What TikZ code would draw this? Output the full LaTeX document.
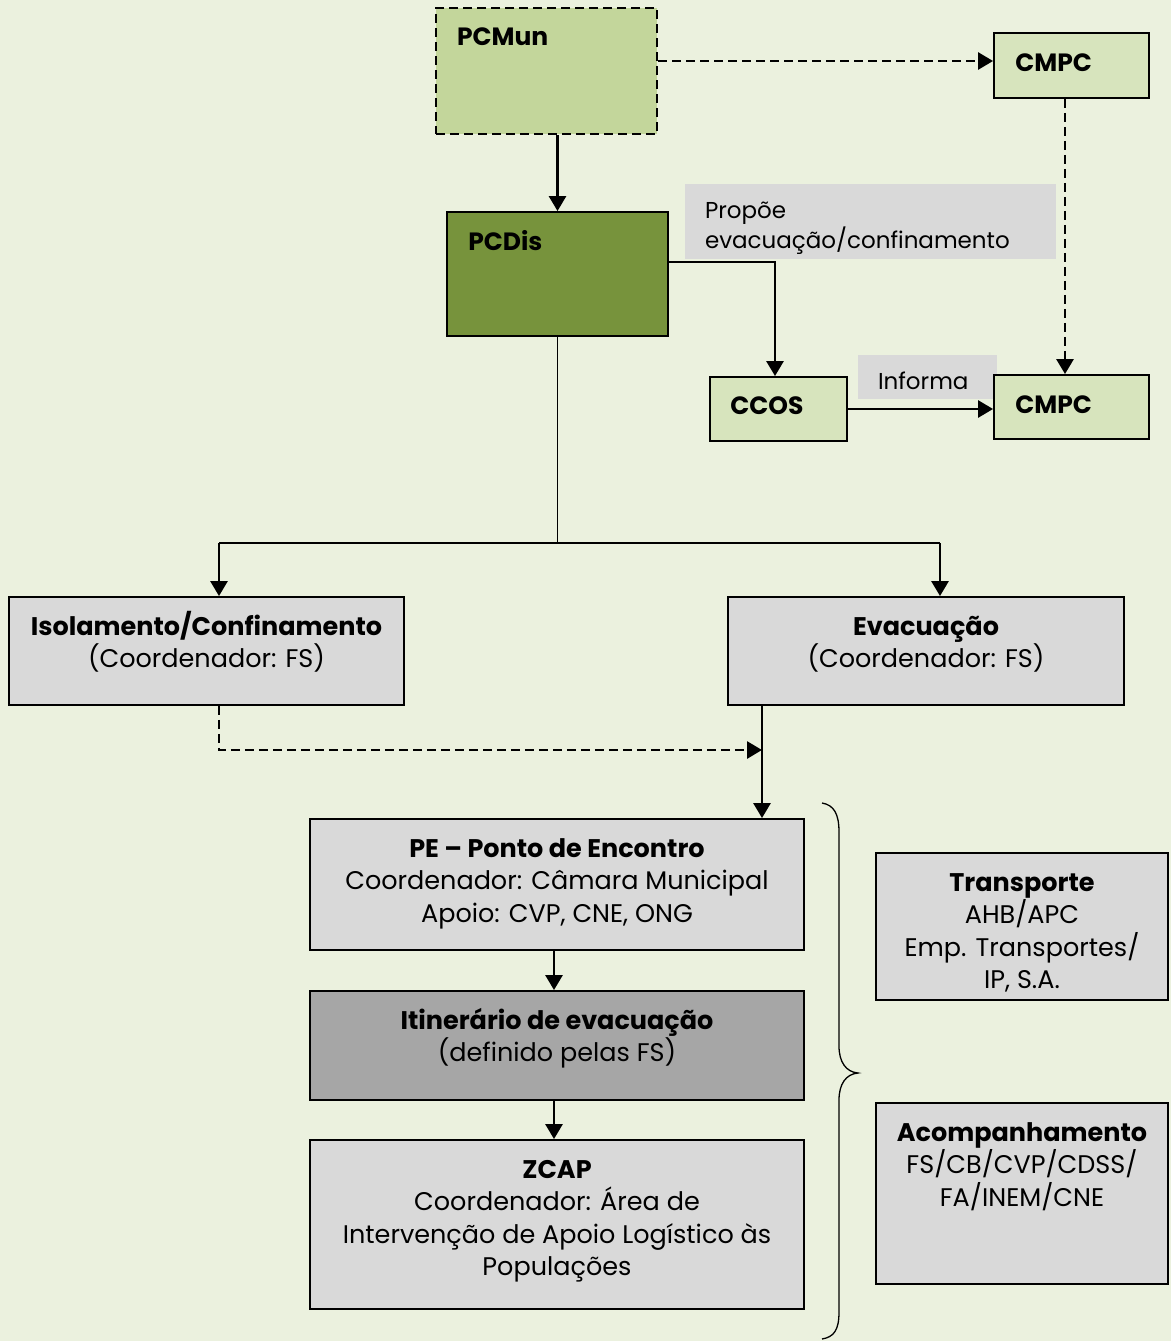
\documentclass[tikz,border=0pt]{standalone}
\usepackage{fontspec}
\setmainfont{Poppins}
\usetikzlibrary{arrows.meta}
\definecolor{bgolive}{HTML}{EBF1DE}
\definecolor{olivemid}{HTML}{C3D69B}
\definecolor{olivelight}{HTML}{D7E4BD}
\definecolor{olivedark}{HTML}{77933C}
\definecolor{boxgray}{HTML}{D9D9D9}
\definecolor{darkgray}{HTML}{A6A6A6}
\newcommand{\toprule}[1]{\rule{0pt}{#1}}
\begin{document}
\begin{tikzpicture}[x=1pt,y=-1pt,>={Triangle[length=15pt,width=17pt]},
                        box/.style={draw, line width=1.9pt, inner sep=0pt},
                        ttl/.style={anchor=base west, inner sep=0pt,
                                    xshift=22pt, yshift=-39pt,
                                    font=\fontsize{25}{32}\selectfont\bfseries},
                        txt/.style={anchor=north, inner sep=0pt, yshift=-14pt,
                                    align=center, font=\fontsize{25.5}{32.5}\selectfont},
                        notebox/.style={fill=boxgray, inner sep=0pt},
                        notetxt/.style={anchor=north west, inner sep=0pt,
                                    xshift=20pt, yshift=-11pt, align=left,
                                    font=\fontsize{23}{30}\selectfont},
                        arr/.style={line width=2.8pt},
                        dsh/.style={line width=2.8pt, dash pattern=on 9pt off 5pt},
                        thinline/.style={line width=1.3pt}]
                        \useasboundingbox (0,0) rectangle (1171,1341);
                        \fill [bgolive] (0,0) rectangle (1171,1341);
                        % grey notes on the connectors
                        \node [notebox, minimum width=371pt, minimum height=75pt,
                               label={[notetxt]north west:{\toprule{23pt}Propõe\\evacuação/confinamento}}] (propoe) at (870.5,221.5) {};
                        \node [notebox, minimum width=139pt, minimum height=44pt,
                               label={[notetxt]north west:{\toprule{23pt}Informa}}] (informa) at (927.5,377) {};
                        % command posts
                        \node [box, fill=olivemid, dsh, line width=2.4pt, minimum width=221pt, minimum height=126pt,
                               label={[ttl]north west:PCMun}] (pcmun) at (546.5,71) {};
                        \node [box, fill=olivelight, minimum width=155pt, minimum height=65pt,
                               label={[ttl]north west:CMPC}] (cmpctop) at (1071.5,65.5) {};
                        \node [box, fill=olivedark, minimum width=221pt, minimum height=124pt,
                               label={[ttl]north west:PCDis}] (pcdis) at (557.5,274) {};
                        \node [box, fill=olivelight, minimum width=137pt, minimum height=64pt,
                               label={[ttl, xshift=-1pt, yshift=1pt]north west:CCOS}] (ccos) at (778.5,409) {};
                        \node [box, fill=olivelight, minimum width=155pt, minimum height=64pt,
                               label={[ttl]north west:CMPC}] (cmpcbot) at (1071.5,407) {};
                        % operations
                        \node [box, fill=boxgray, minimum width=395pt, minimum height=108pt,
                               label={[txt]north:{\toprule{25pt}\textbf{Isolamento/Confinamento}\\(Coordenador: FS)}}] (iso) at (206.5,651) {};
                        \node [box, fill=boxgray, minimum width=396pt, minimum height=108pt,
                               label={[txt]north:{\toprule{25pt}\textbf{Evacuação}\\(Coordenador: FS)}}] (evac) at (926,651) {};
                        \node [box, fill=boxgray, minimum width=494pt, minimum height=131pt,
                               label={[txt]north:{\toprule{25pt}\textbf{PE – Ponto de Encontro}\\Coordenador: Câmara Municipal\\Apoio: CVP, CNE, ONG}}] (pe) at (557,884.5) {};
                        \node [box, fill=darkgray, minimum width=494pt, minimum height=109pt,
                               label={[txt]north:{\toprule{25pt}\textbf{Itinerário de evacuação}\\(definido pelas FS)}}] (itin) at (557,1045.5) {};
                        \node [box, fill=boxgray, minimum width=494pt, minimum height=169pt,
                               label={[txt]north:{\toprule{25pt}\textbf{ZCAP}\\Coordenador: Área de\\Intervenção de Apoio Logístico às\\Populações}}] (zcap) at (557,1224.5) {};
                        \node [box, fill=boxgray, minimum width=292pt, minimum height=147pt,
                               label={[txt]north:{\toprule{25pt}\textbf{Transporte}\\AHB/APC\\Emp. Transportes/\\IP, S.A.}}] (transp) at (1022,926.5) {};
                        \node [box, fill=boxgray, minimum width=292pt, minimum height=181pt,
                               label={[txt]north:{\toprule{25pt}\textbf{Acompanhamento}\\FS/CB/CVP/CDSS/\\FA/INEM/CNE}}] (acomp) at (1022,1193.5) {};
                        % connectors
                        \coordinate (cmpcin) at ([yshift=4.5pt]cmpctop.west);
                        \coordinate (cmpcdn) at ([xshift=-6.5pt]cmpctop.south);
                        \coordinate (pcdisout) at ([yshift=12pt]pcdis.east);
                        \coordinate (ccosin) at ([xshift=-3.5pt]ccos.north);
                        \coordinate (split) at (557.5,543);
                        \coordinate (isoin) at ([xshift=12.5pt]iso.north);
                        \coordinate (evacin) at ([xshift=14pt]evac.north);
                        \coordinate (evacout) at ([xshift=-164pt]evac.south);
                        \coordinate (merge) at (762,750);
                        \coordinate (peout) at ([xshift=-3pt]pe.south);
                        \coordinate (itinout) at ([xshift=-3pt]itin.south);
                        \draw [dsh, ->] (pcmun.east |- cmpcin) -- (cmpcin);
                        \draw [dsh, ->] (cmpcdn) -- (cmpcdn |- cmpcbot.north);
                        \draw [arr, ->] (pcdis.north |- pcmun.south) -- (pcdis.north);
                        \draw [arr, ->] (pcdisout) -| (ccosin);
                        \draw [arr, ->] (ccos.east) -- (ccos.east -| cmpcbot.west);
                        \draw [thinline] (pcdis.south) -- (split);
                        \draw [thinline] (isoin |- split) -- (evacin |- split);
                        \draw [arr, ->] (isoin |- split) -- (isoin);
                        \draw [arr, ->] (evacin |- split) -- (evacin);
                        \draw [dsh, ->] (isoin |- iso.south) |- (merge);
                        \draw [arr, ->] (evacout) -- (evacout |- pe.north);
                        \draw [arr, ->] (peout) -- (peout |- itin.north);
                        \draw [arr, ->] (itinout) -- (itinout |- zcap.north);
                        % brace
                        \draw [line width=1.3pt] (822,803) .. controls (834,805) and (839,814) .. (839,832)
                              -- (839,1046) .. controls (839,1062) and (846,1072) .. (858,1073)
                              .. controls (846,1074) and (839,1084) .. (839,1100)
                              -- (839,1312) .. controls (839,1330) and (834,1337) .. (822,1339);
                \end{tikzpicture}
\end{document}
